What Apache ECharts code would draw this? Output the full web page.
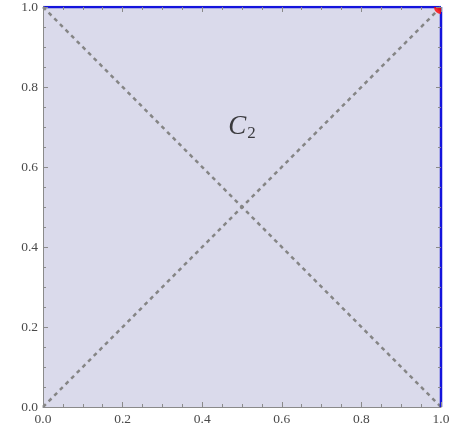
<!DOCTYPE html>
<html>
<head>
<meta charset="utf-8">
<script src="https://cdn.jsdelivr.net/npm/echarts@6/dist/echarts.min.js"></script>
<style>
  html, body { margin: 0; padding: 0; background: #fff; }
  #chart { width: 453px; height: 429px; }
</style>
</head>
<body>
<div id="chart"></div>
<script>
// Region C2: the unit square, bounded above by y = 1 and on the right by x = 1
const topEdge = [[0, 1], [1, 1]];
const rightEdge = [[1, 0], [1, 1]];
const diagonalUp = [[0, 0], [1, 1]];
const diagonalDown = [[0, 1], [1, 0]];
const cornerPoint = [[1, 1]];
const regionLabel = [[0.5, 0.7]];
const axisMin = 0, axisMax = 1, tickStep = 0.2;

const frameColor = '#8a8a8a';
const labelFont = { fontFamily: 'Liberation Serif', fontSize: 13.5, color: '#4a4a4a' };

function frameAxis(pos, showLabels) {
  return {
    type: 'value', position: pos, min: axisMin, max: axisMax, interval: tickStep,
    z: 10,
    axisLine: { show: showLabels, onZero: false, lineStyle: { color: frameColor, width: 1 } },
    axisTick: { show: true, inside: true, length: 5, lineStyle: { color: frameColor } },
    minorTick: { show: true, splitNumber: 4, length: 3, lineStyle: { color: frameColor } },
    splitLine: { show: false },
    axisLabel: Object.assign({ show: showLabels, margin: 5, formatter: v => v.toFixed(1) }, labelFont)
  };
}

// Corner marker: a quarter disc, the part of the dot that lies inside the square
const quarterDisc = 'path://M10,0 L0,0 A10,10 0 0,0 10,10 Z';
const dotSize = 7;

const chart = echarts.init(document.getElementById('chart'), null, { renderer: 'canvas' });
chart.setOption({
  animation: false,
  grid: { left: 43, right: 12, top: 7, bottom: 22 },
  xAxis: [frameAxis('bottom', true), frameAxis('top', false)],
  yAxis: [frameAxis('left', true), frameAxis('right', false)],
  series: [
    {
      type: 'line', data: topEdge, symbol: 'none',
      lineStyle: { color: '#1414dc', width: 2.5 },
      areaStyle: { color: 'rgb(218,218,235)', opacity: 1, origin: 'start' },
      z: 2
    },
    {
      type: 'line', data: rightEdge, symbol: 'none',
      lineStyle: { color: '#1414dc', width: 2.5 }, z: 4
    },
    {
      type: 'line', data: diagonalUp, symbol: 'none',
      lineStyle: { color: '#858585', width: 2.5, type: [4, 4] }, z: 3
    },
    {
      type: 'line', data: diagonalDown, symbol: 'none',
      lineStyle: { color: '#858585', width: 2.5, type: [4, 4] }, z: 3
    },
    {
      type: 'scatter', data: cornerPoint, symbol: quarterDisc, symbolSize: dotSize,
      symbolOffset: [-dotSize / 2, dotSize / 2],
      itemStyle: { color: '#ff0000' }, z: 5
    },
    {
      type: 'scatter', data: regionLabel, symbolSize: 0, z: 6,
      label: {
        show: true, position: 'inside',
        formatter: '{c|C}{s|2}',
        rich: {
          c: { fontFamily: 'Liberation Serif', fontStyle: 'italic', fontSize: 27, color: '#111' },
          s: { fontFamily: 'Liberation Serif', fontSize: 17, color: '#111', padding: [14, 0, 0, 1] }
        }
      }
    }
  ]
});
</script>
</body>
</html>
